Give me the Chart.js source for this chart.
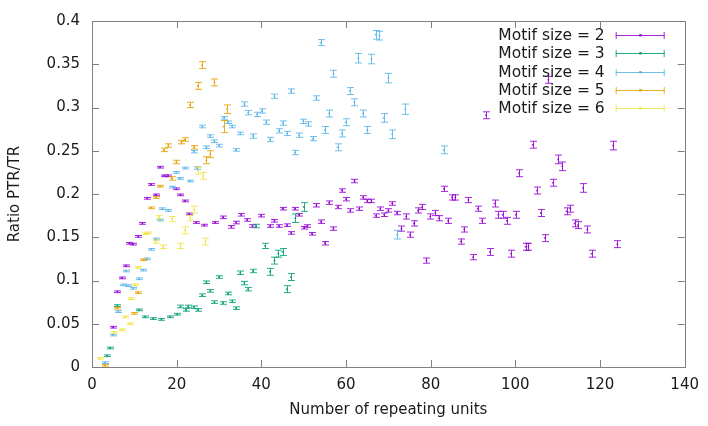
<!DOCTYPE html>
<html lang="en">
<head>
    <meta charset="UTF-8">
    <title>Ratio PTR/TR vs repeating units</title>
    <script src="https://cdn.jsdelivr.net/npm/chart.js"></script>
    <style>
        html, body { margin: 0; padding: 0; background: #ffffff; }
        #wrap { width: 708px; height: 426px; }
    </style>
</head>
<body>
    <div id="wrap"><canvas id="ratioChart" width="708" height="426"></canvas></div>

    <script>
        // values: x = repeating units, y = ratio, e = half error bar
        const seriesLabels = ['Motif size = 2', 'Motif size = 3', 'Motif size = 4', 'Motif size = 5', 'Motif size = 6'];
        const seriesColors = ['#9400d3', '#009e73', '#56b4e9', '#e69f00', '#f0e442'];

        const m2x = [4.9, 6, 7, 8, 8.8, 9.7, 10.9, 11.9, 13, 13.9, 15, 16, 16.9, 18, 19.9, 20.9, 21.9, 22.9, 24.6, 26.5,
            29, 30.9, 32.9, 34, 35.2, 36.6, 37.9, 39.9, 42, 43.1, 44.1, 45, 46, 47, 47.9, 48.9, 50, 50.9, 51.9, 53,
            54, 55, 56, 57, 58, 59, 60, 61, 62, 63.1, 64, 65, 66, 67, 68.1, 69, 70, 70.9, 72, 73.1,
            74.2, 75.1, 76, 77, 78, 79, 79.9, 81.1, 81.9, 83.1, 84.1, 85, 85.8, 87.1, 87.9, 88.9, 90, 91.1, 92.1, 93.1,
            94, 95.1, 96, 97, 98, 99, 100.1, 100.9, 102.4, 103.1, 104.1, 105.1, 106, 107, 107.8, 108.9, 110.1, 111.1, 112.1, 113,
            114, 114.8, 116, 117, 118, 123.1, 124.1];
        const m2y = [0.046, 0.087, 0.103, 0.117, 0.143, 0.142, 0.151, 0.166, 0.195, 0.211, 0.199, 0.231, 0.221, 0.221, 0.206, 0.199, 0.192, 0.177, 0.167, 0.164,
            0.167, 0.173, 0.162, 0.167, 0.176, 0.170, 0.163, 0.175, 0.163, 0.169, 0.163, 0.183, 0.164, 0.155, 0.183, 0.176, 0.161, 0.163, 0.154, 0.187,
            0.168, 0.143, 0.190, 0.160, 0.185, 0.204, 0.194, 0.181, 0.215, 0.183, 0.196, 0.192, 0.192, 0.175, 0.183, 0.176, 0.181, 0.189, 0.178, 0.160,
            0.174, 0.153, 0.166, 0.181, 0.185, 0.123, 0.174, 0.178, 0.172, 0.206, 0.169, 0.196, 0.196, 0.145, 0.159, 0.193, 0.127, 0.183, 0.169, 0.291,
            0.133, 0.189, 0.176, 0.176, 0.169, 0.131, 0.176, 0.224, 0.139, 0.139, 0.257, 0.204, 0.178, 0.149, 0.332, 0.213, 0.240, 0.232, 0.180, 0.183,
            0.166, 0.164, 0.207, 0.159, 0.131, 0.256, 0.142];
        const m2e = [0.001, 0.001, 0.001, 0.001, 0.001, 0.001, 0.001, 0.001, 0.001, 0.001, 0.001, 0.001, 0.001, 0.001, 0.001, 0.001, 0.001, 0.001, 0.001, 0.001,
            0.001, 0.0015, 0.0015, 0.0015, 0.0015, 0.0015, 0.0015, 0.0015, 0.0015, 0.0015, 0.0015, 0.0015, 0.0015, 0.0015, 0.0015, 0.0015, 0.0015, 0.0015, 0.0015, 0.002,
            0.002, 0.002, 0.002, 0.002, 0.002, 0.002, 0.002, 0.002, 0.002, 0.002, 0.002, 0.002, 0.002, 0.002, 0.002, 0.002, 0.002, 0.002, 0.002, 0.003,
            0.003, 0.003, 0.003, 0.003, 0.003, 0.003, 0.003, 0.003, 0.003, 0.003, 0.003, 0.003, 0.003, 0.003, 0.003, 0.003, 0.003, 0.003, 0.003, 0.004,
            0.004, 0.004, 0.004, 0.004, 0.004, 0.004, 0.004, 0.004, 0.004, 0.004, 0.004, 0.004, 0.004, 0.004, 0.004, 0.004, 0.005, 0.005, 0.004, 0.004,
            0.004, 0.004, 0.005, 0.004, 0.004, 0.005, 0.004];

        const m3x = [3.5, 4.2, 6, 11, 12.5, 14.4, 16.4, 18.4, 20.1, 20.9, 22.1, 22.7, 24, 25, 26, 27, 27.9, 28.9, 30, 30.9,
            32.1, 33.1, 34, 35, 36, 36.8, 38, 38.7, 40.9, 42, 43.1, 44, 45, 46, 47, 48, 50];
        const m3y = [0.013, 0.022, 0.071, 0.066, 0.058, 0.056, 0.055, 0.058, 0.061, 0.070, 0.066, 0.070, 0.069, 0.066, 0.083, 0.098, 0.088, 0.075, 0.104, 0.074,
            0.085, 0.076, 0.068, 0.109, 0.097, 0.090, 0.111, 0.163, 0.140, 0.110, 0.123, 0.131, 0.133, 0.090, 0.104, 0.172, 0.185];
        const m3e = [0.001, 0.001, 0.001, 0.001, 0.001, 0.001, 0.001, 0.001, 0.001, 0.0015, 0.0015, 0.0015, 0.0015, 0.0015, 0.0015, 0.0015, 0.0015, 0.0015, 0.0015, 0.0015,
            0.0015, 0.0015, 0.0015, 0.002, 0.002, 0.002, 0.002, 0.002, 0.003, 0.004, 0.004, 0.004, 0.004, 0.004, 0.004, 0.005, 0.005];

        const m4x = [3, 4.9, 6.2, 7.4, 8, 8.5, 9.7, 11.1, 12.1, 13, 14, 15, 16, 16.6, 18, 19, 19.9, 20.7, 22, 23.1,
            24, 24.8, 26, 27, 27.9, 28.9, 30, 31.1, 32.1, 33.1, 34, 35, 36, 36.9, 38, 38.9, 40.1, 41.1, 42, 43.1,
            44.1, 45, 46, 47, 47.9, 48.9, 49.9, 51.1, 52.1, 53, 54, 55, 56, 57, 58, 59, 59.9, 60.9, 62, 62.9,
            64, 65, 66, 67, 67.9, 68.9, 70, 70.9, 72.1, 74, 83.1];
        const m4y = [0.005, 0.037, 0.064, 0.095, 0.111, 0.094, 0.091, 0.102, 0.112, 0.125, 0.136, 0.148, 0.170, 0.183, 0.181, 0.208, 0.225, 0.218, 0.230, 0.215,
            0.249, 0.230, 0.278, 0.254, 0.267, 0.261, 0.256, 0.288, 0.283, 0.278, 0.251, 0.270, 0.304, 0.294, 0.267, 0.292, 0.296, 0.283, 0.263, 0.313,
            0.273, 0.282, 0.270, 0.319, 0.248, 0.268, 0.284, 0.281, 0.264, 0.311, 0.375, 0.274, 0.293, 0.339, 0.254, 0.270, 0.283, 0.319, 0.306, 0.357,
            0.293, 0.274, 0.356, 0.384, 0.383, 0.288, 0.334, 0.269, 0.153, 0.298, 0.251];
        const m4e = [0.001, 0.001, 0.001, 0.001, 0.001, 0.001, 0.001, 0.001, 0.001, 0.001, 0.001, 0.001, 0.001, 0.001, 0.001, 0.001, 0.001, 0.001, 0.001, 0.001,
            0.0015, 0.0015, 0.0015, 0.0015, 0.0015, 0.0015, 0.0015, 0.0015, 0.0015, 0.0015, 0.0015, 0.0015, 0.0025, 0.0025, 0.0025, 0.0025, 0.0025, 0.0025, 0.0025, 0.0025,
            0.0025, 0.0025, 0.0025, 0.0025, 0.0025, 0.0025, 0.0025, 0.0025, 0.0025, 0.0025, 0.0035, 0.004, 0.004, 0.004, 0.004, 0.004, 0.004, 0.004, 0.004, 0.0055,
            0.004, 0.004, 0.0055, 0.005, 0.005, 0.005, 0.0055, 0.005, 0.005, 0.006, 0.0045];

        const m5x = [3, 5.9, 10, 10.8, 12.1, 13.9, 15.1, 16, 16.9, 18, 18.8, 19.9, 21.1, 21.9, 23.1, 24, 25, 26, 27, 27.9,
            28.9, 31.1, 31.9];
        const m5y = [0.002, 0.068, 0.062, 0.086, 0.124, 0.184, 0.196, 0.209, 0.251, 0.256, 0.218, 0.237, 0.260, 0.263, 0.303, 0.254, 0.325, 0.349, 0.239, 0.246,
            0.329, 0.278, 0.298];
        const m5e = [0.001, 0.001, 0.001, 0.001, 0.001, 0.001, 0.001, 0.001, 0.002, 0.002, 0.002, 0.002, 0.002, 0.002, 0.003, 0.002, 0.004, 0.004, 0.004, 0.004,
            0.004, 0.007, 0.005];

        const m6x = [1.9, 5.2, 7, 7.9, 8.9, 9.1, 10.1, 10.9, 12.5, 13.2, 15, 15.8, 16.8, 18.8, 20.9, 21.9, 23.1, 24, 25, 26.2,
            26.8];
        const m6y = [0.010, 0.040, 0.043, 0.058, 0.050, 0.079, 0.095, 0.115, 0.154, 0.155, 0.145, 0.173, 0.139, 0.171, 0.140, 0.158, 0.172, 0.182, 0.227, 0.221,
            0.145];
        const m6e = [0.001, 0.001, 0.001, 0.001, 0.001, 0.001, 0.001, 0.001, 0.001, 0.001, 0.002, 0.002, 0.002, 0.003, 0.003, 0.004, 0.003, 0.004, 0.004, 0.004,
            0.004];

        const xTicks = [0, 20, 40, 60, 80, 100, 120, 140];
        const yTicks = [0, 0.05, 0.1, 0.15, 0.2, 0.25, 0.3, 0.35, 0.4];

        const allX = [m2x, m3x, m4x, m5x, m6x];
        const allY = [m2y, m3y, m4y, m5y, m6y];
        const allE = [m2e, m3e, m4e, m5e, m6e];

        const datasets = seriesLabels.map((label, i) => ({
            label: label,
            data: allX[i].map((xv, j) => ({ x: xv, y: allY[i][j], e: allE[i][j] })),
            borderColor: seriesColors[i],
            backgroundColor: seriesColors[i] + 'cc',
            pointRadius: 1,
            pointBorderWidth: 0,
            order: 5 - i
        }));

        // gnuplot style error bars, drawn in series order so the last one sits on top
        const errorBars = {
            id: 'errorBars',
            afterDatasetsDraw(chart) {
                const { ctx, scales: { x, y } } = chart;
                ctx.save();
                ctx.lineWidth = 1;
                ctx.globalAlpha = 0.85;
                chart.data.datasets.forEach((ds) => {
                    ctx.strokeStyle = ds.borderColor;
                    ds.data.forEach((p) => {
                        const px = Math.round(x.getPixelForValue(p.x)) + 0.5;
                        const top = y.getPixelForValue(p.y + p.e);
                        const bot = y.getPixelForValue(p.y - p.e);
                        ctx.beginPath();
                        ctx.moveTo(px, top); ctx.lineTo(px, bot);
                        ctx.moveTo(px - 3.5, top); ctx.lineTo(px + 3.5, top);
                        ctx.moveTo(px - 3.5, bot); ctx.lineTo(px + 3.5, bot);
                        ctx.stroke();
                    });
                });
                ctx.restore();
            }
        };

        // box with inward, mirrored ticks
        const frame = {
            id: 'frame',
            afterDraw(chart) {
                const { ctx, chartArea: a, scales: { x, y } } = chart;
                const tl = 7;
                ctx.save();
                ctx.strokeStyle = '#808080';
                ctx.lineWidth = 1;
                ctx.beginPath();
                xTicks.forEach((t) => {
                    const px = Math.round(x.getPixelForValue(t)) + 0.5;
                    ctx.moveTo(px, a.bottom); ctx.lineTo(px, a.bottom - tl);
                    ctx.moveTo(px, a.top); ctx.lineTo(px, a.top + tl);
                });
                yTicks.forEach((t) => {
                    const py = Math.round(y.getPixelForValue(t)) + 0.5;
                    ctx.moveTo(a.left, py); ctx.lineTo(a.left + tl, py);
                    ctx.moveTo(a.right, py); ctx.lineTo(a.right - tl, py);
                });
                ctx.stroke();
                ctx.strokeRect(Math.round(a.left) + 0.5, Math.round(a.top) + 0.5,
                    Math.round(a.right - a.left), Math.round(a.bottom - a.top));

                // key, top right
                ctx.font = '15.5px "DejaVu Sans"';
                ctx.textAlign = 'right';
                ctx.textBaseline = 'middle';
                chart.data.datasets.forEach((ds, i) => {
                    const ly = Math.round(a.top + 14 + i * 18.3) + 0.5;
                    const x0 = a.right - 69, x1 = a.right - 20;
                    ctx.fillStyle = '#1a1a1a';
                    ctx.fillText(ds.label, a.right - 80, ly);
                    ctx.strokeStyle = ds.borderColor;
                    ctx.globalAlpha = 0.85;
                    ctx.beginPath();
                    ctx.moveTo(x0, ly); ctx.lineTo(x1, ly);
                    ctx.moveTo(x0 + 0.5, ly - 3.5); ctx.lineTo(x0 + 0.5, ly + 3.5);
                    ctx.moveTo(x1 - 0.5, ly - 3.5); ctx.lineTo(x1 - 0.5, ly + 3.5);
                    ctx.stroke();
                    ctx.fillStyle = ds.borderColor;
                    ctx.fillRect((x0 + x1) / 2 - 1, ly - 1.5, 2.5, 2.5);
                    ctx.globalAlpha = 1;
                });
                ctx.restore();
            }
        };

        Chart.defaults.font.family = '"DejaVu Sans", sans-serif';
        Chart.defaults.font.size = 15;
        Chart.defaults.color = '#1a1a1a';

        new Chart(document.getElementById('ratioChart').getContext('2d'), {
            type: 'scatter',
            data: { datasets: datasets },
            options: {
                responsive: false,
                animation: false,
                layout: { padding: { top: 11, right: 21, left: 0, bottom: 0 } },
                plugins: {
                    legend: { display: false },
                    tooltip: { enabled: false }
                },
                scales: {
                    x: {
                        type: 'linear',
                        min: 0, max: 140,
                        afterBuildTicks: (s) => { s.ticks = xTicks.map(v => ({ value: v })); },
                        afterFit: (s) => { s.height = 59; },
                        grid: { display: false, drawTicks: false },
                        border: { display: false },
                        ticks: { padding: 9, maxRotation: 0 },
                        title: { display: true, text: 'Number of repeating units', padding: { top: 0, bottom: 7 } }
                    },
                    y: {
                        type: 'linear',
                        min: 0, max: 0.4,
                        afterBuildTicks: (s) => { s.ticks = yTicks.map(v => ({ value: v })); },
                        afterFit: (s) => { s.width = 92; },
                        grid: { display: false, drawTicks: false },
                        border: { display: false },
                        ticks: { padding: 12, callback: (v) => String(Number(v.toFixed(2))) },
                        title: { display: true, text: 'Ratio PTR/TR', padding: { top: 6, bottom: 0 } }
                    }
                }
            },
            plugins: [errorBars, frame]
        });
    </script>
</body>
</html>
